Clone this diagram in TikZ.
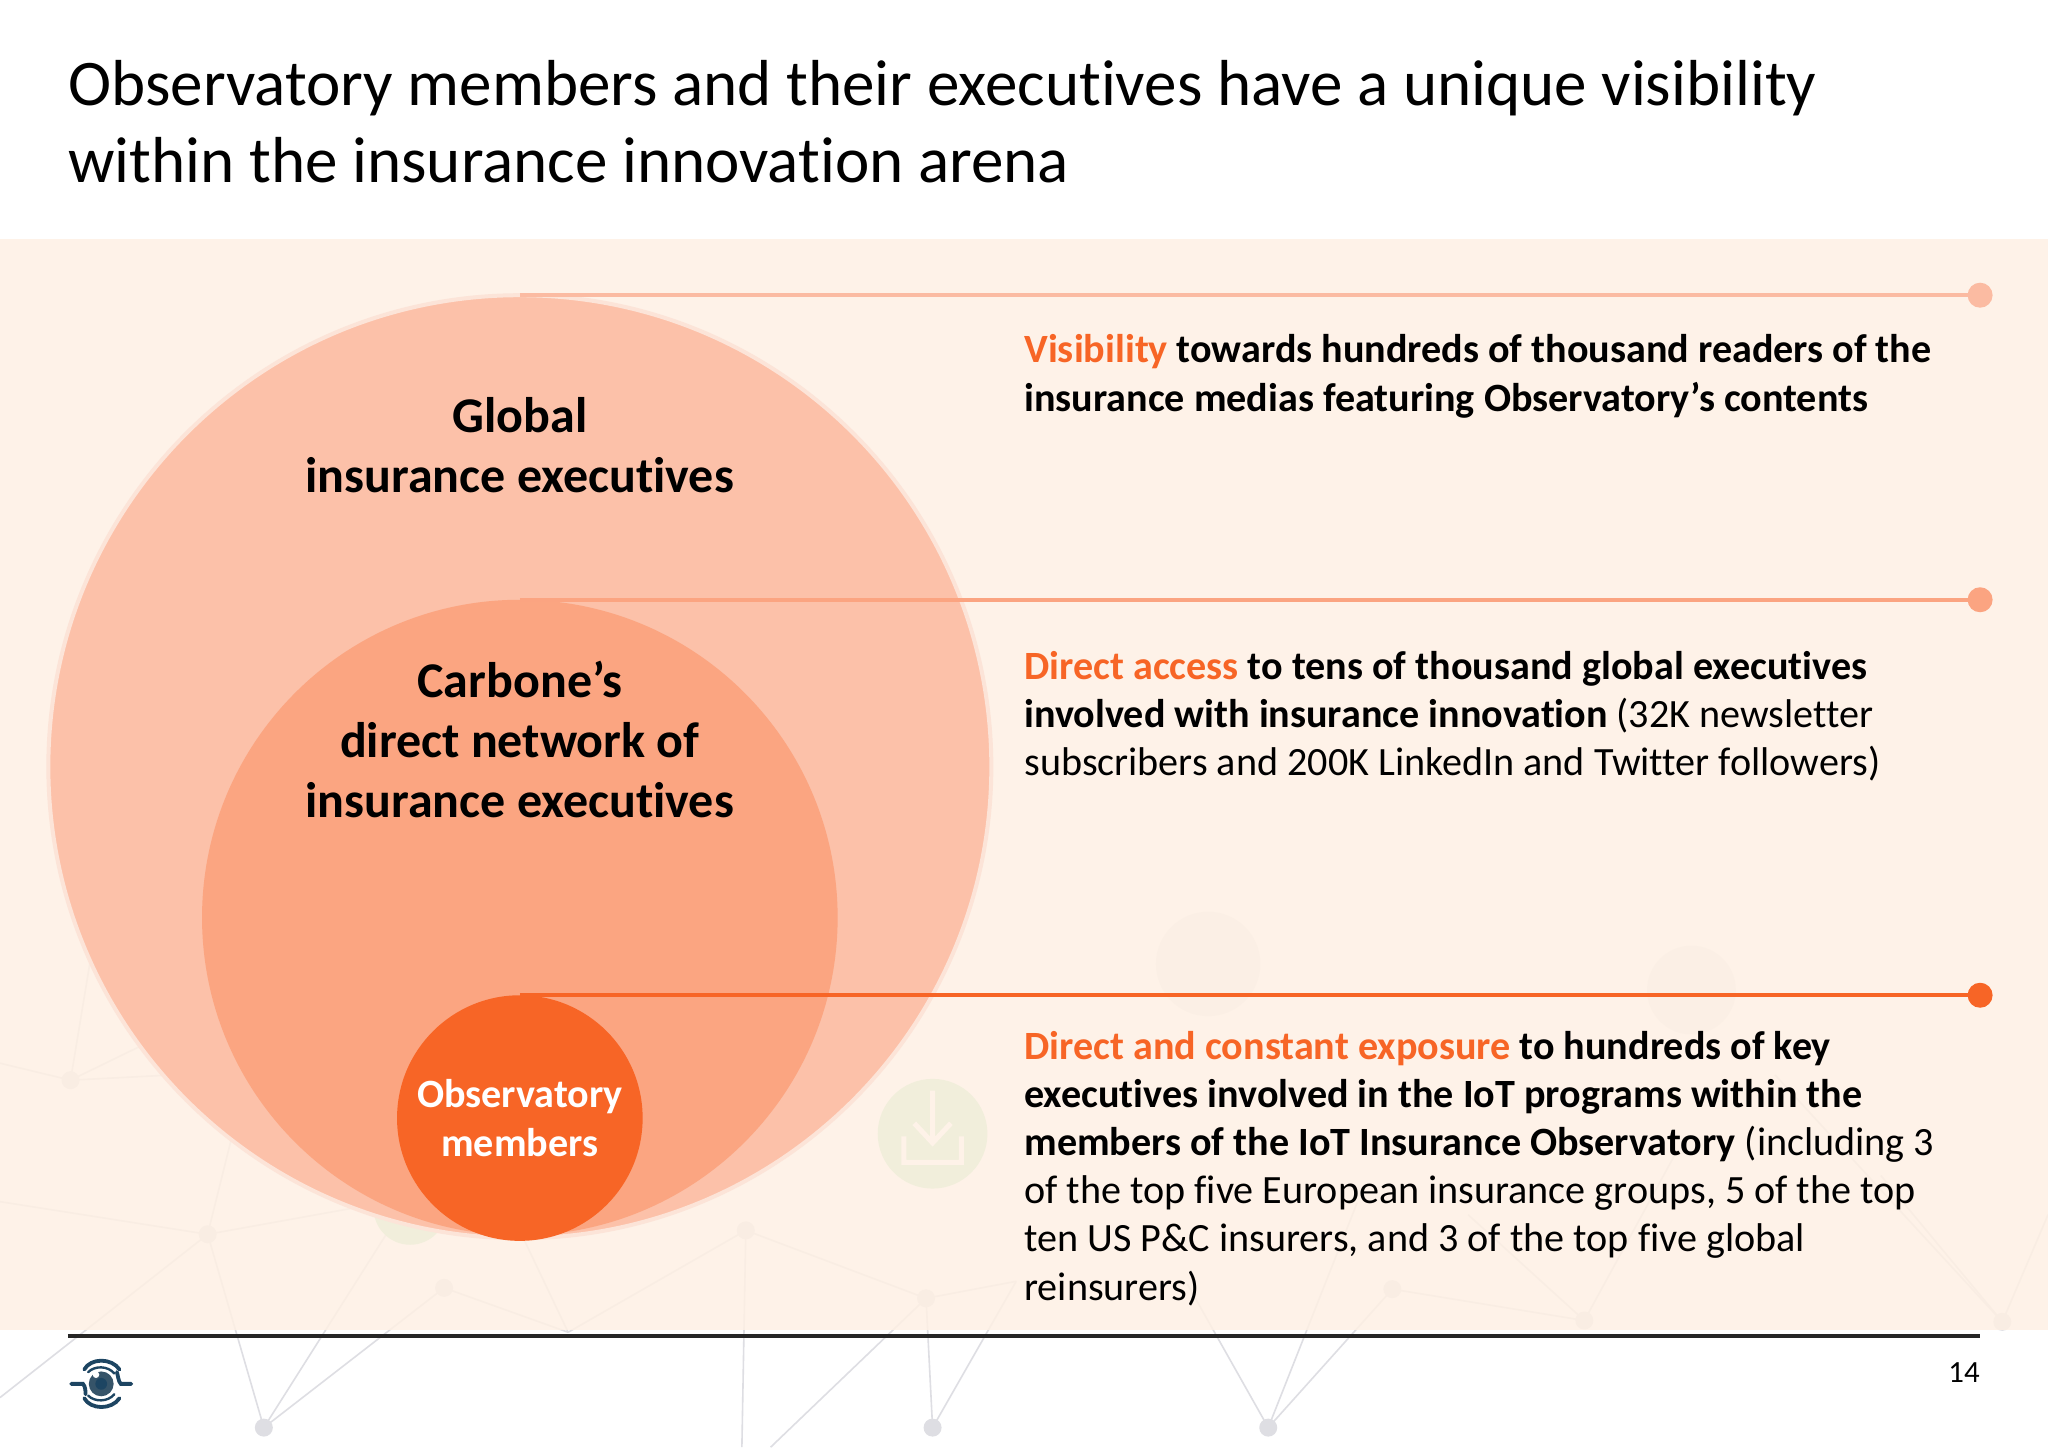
\documentclass[tikz,border=0pt]{standalone}
\usepackage{fontspec}
\setmainfont{Carlito}[RawFeature={-liga}]
\definecolor{orangeA}{HTML}{F76526}
\definecolor{lineA}{HTML}{FBBBA2}
\definecolor{lineB}{HTML}{FBA481}
\definecolor{circA}{HTML}{FCC1A9}
\definecolor{circB}{HTML}{FBA581}
\definecolor{edgeA}{HTML}{FCE4D8}
\definecolor{panel}{HTML}{FEF0E4}
\definecolor{netgray}{HTML}{DEDEE3}
\definecolor{navy}{HTML}{1D4562}
\tikzset{
  x=0.65306pt,y=-0.65306pt,
  net/.style={draw=netgray,line width=0.8pt},
  netdot/.style={circle,fill=netgray,inner sep=0pt,minimum size=9pt},
  disc/.style={circle,inner sep=0pt,outer sep=0pt,draw=none},
  bodytxt/.style={anchor=north west,inner sep=0pt,align=left,font=\fontsize{20.06}{24.1}\selectfont},
  labtxt/.style={inner sep=0pt,align=center,font=\fontsize{25}{30.1}\selectfont\bfseries},
  endpoint/.style={circle,inner sep=0pt,outer sep=0pt,minimum size=12.5pt},
  logoline/.style={draw=navy,line width=1.9pt,line cap=round}
}
\begin{document}
\begin{tikzpicture}
\useasboundingbox (0,0) rectangle (1568,1108.6);
\fill[white] (0,0) rectangle (1568,1108.6);
% background network
\foreach \n/\x/\y in {a/202/1093,b/714/1093,c/971/1093,d/159/945,e/340/986,f/571/942,g/709/994,h/1066/987,i/1213/1011,j/1533/1012,k/54/827,l/435/1020,m/778/981,n/1124/930,o/1284/881,p/1359/823,q/909/983,r/1039/921,s/568/1108,t/590/1108,u/0/1070,v/0/920,w/270/925,x/190/820,y/297/943,z/385/915}
  \coordinate (net\n) at (\x,\y);
\foreach \s/\t in {d/u,d/v,d/w,d/a,d/x,e/a,e/l,y/a,l/z,l/f,f/s,f/g,g/b,g/t,g/m,b/m,c/q,c/h,c/r,h/i,i/n,i/o,j/p,k/x}
  \draw[net] (net\s) -- (net\t);
\draw[net] (netk) -- (0,814) (netk) -- (130,790) (netk) -- (75,700);
\draw[net] (netj) -- (1568,930) (netj) -- (1440,900);
\foreach \n in {a,b,c,d,e,f,g,h,i,j,k}
  \node[netdot] at (net\n) {};
\fill[netgray,opacity=.55] (925,738) circle (40) (1295,758) circle (34);
\fill[green!25!netgray] (714,868) circle (42) (314,925) circle (28);
\draw[white,line width=2.5pt] (714,835) -- (714,872) (700,860) -- (714,875) -- (728,860) (692,870) -- (692,890) -- (736,890) -- (736,870);
% panel
\fill[panel,opacity=.85] (0,183) rectangle (1568,1018);
% circles
\node[disc,fill=circA,draw=edgeA,line width=2pt,minimum size=471.5pt] (big) at (398,587) {};
\node[disc,fill=circB,minimum size=317.8pt] (mid) at (398,702.5) {};
\node[disc,fill=orangeA,minimum size=122.8pt] (small) at (398,856) {};
% end points and connectors
\coordinate (rightedge) at (1516,0);
\node[endpoint,fill=lineA] (dotA) at (big.north -| rightedge) {};
\node[endpoint,fill=lineB] (dotB) at (mid.north -| rightedge) {};
\node[endpoint,fill=orangeA] (dotC) at (small.north -| rightedge) {};
\draw[lineA,line width=2pt] (big.north) -- (dotA);
\draw[lineB,line width=2pt] (mid.north) -- (dotB);
\draw[orangeA,line width=2pt] (small.north) -- (dotC);
% labels
\node[labtxt] (labA) at (398,341) {Global\\insurance executives};
\node[labtxt] (labB) at (398,566) {Carbone’s\\direct network of\\insurance executives};
\node[inner sep=0pt,align=center,text=white,font=\fontsize{20.06}{24.1}\selectfont\bfseries] (labC) at (398,856) {Observatory\\members};
% title
\node[anchor=north west,inner sep=0pt,align=left,font=\fontsize{32.52}{38.5}\selectfont] (title) at (52,46) {Observatory members and their executives have a unique visibility\\within the insurance innovation arena};
% body
\node[bodytxt] (txtA) at (784,256) {\textbf{\textcolor{orangeA}{Visibility} towards hundreds of thousand readers of the}\\\textbf{insurance medias featuring Observatory’s contents}};
\node[bodytxt] (txtB) at (784,498) {\textbf{\textcolor{orangeA}{Direct access} to tens of thousand global executives}\\\textbf{involved with insurance innovation} (32K newsletter\\subscribers and 200K LinkedIn and Twitter followers)};
\node[bodytxt] (txtC) at (784,789) {\textbf{\textcolor{orangeA}{Direct and constant exposure} to hundreds of key}\\\textbf{executives involved in the IoT programs within the}\\\textbf{members of the IoT Insurance Observatory} (including 3\\of the top five European insurance groups, 5 of the top\\ten US P\&C insurers, and 3 of the top five global\\reinsurers)};
% footer
\coordinate (ruleL) at (52,1023);
\coordinate (ruleR) at (1516,1023);
\draw[black!85,line width=2pt] (ruleL) -- (ruleR);
\node[anchor=east,inner sep=0pt,font=\fontsize{15.4}{17}\selectfont] (page) at (1516,1051) {14};
% logo
\coordinate (eye) at (77.5,1059.5);
\begin{scope}[shift={(eye)}]
\fill[navy!75!gray] (0,0) circle (9.5);
\fill[white] (-4,-7) circle (2.5);
\fill[navy] (0,0) circle (4.5);
\draw[logoline] (-13,-11) .. controls (-8,-20) and (8,-20) .. (14,-11);
\draw[logoline,line width=1.2pt] (-10,-9) .. controls (-5,-14) and (5,-14) .. (10,-8);
\draw[logoline] (-13,11) .. controls (-8,20) and (8,20) .. (14,11);
\draw[logoline,line width=1.2pt] (-10,9) .. controls (-5,14) and (5,14) .. (10,8);
\draw[logoline] (-23,0) -- (-14,0) .. controls (-12,2) and (-12,6) .. (-12,8);
\draw[logoline] (23,0) -- (15,0) .. controls (13,-2) and (13,-6) .. (12,-9);
\end{scope}
\end{tikzpicture}
\end{document}
